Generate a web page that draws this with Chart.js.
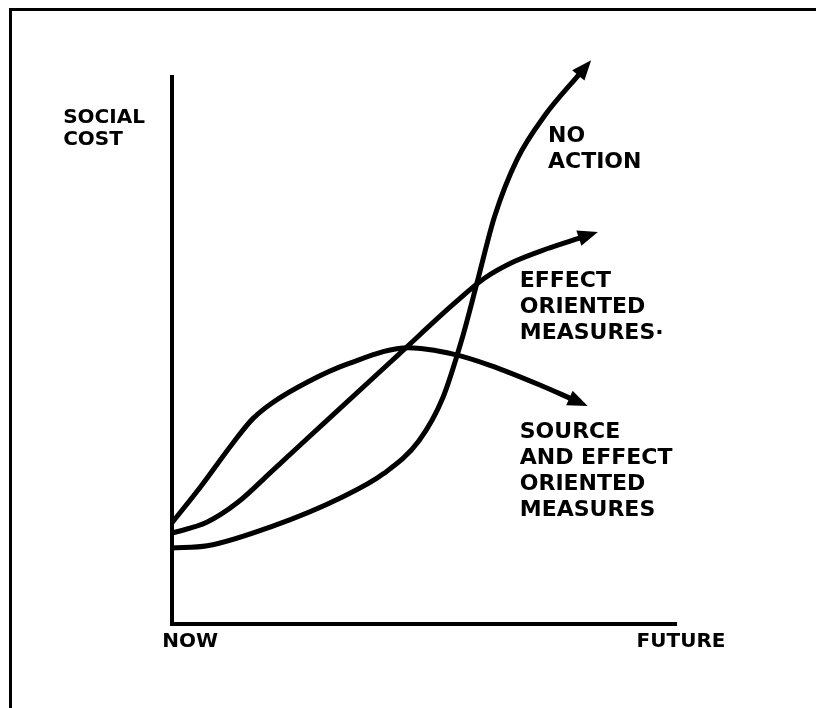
<!DOCTYPE html>
<html>
<head>
<meta charset="utf-8">
<script src="https://cdn.jsdelivr.net/npm/chart.js@4"></script>
<style>
    html, body { margin: 0; padding: 0; background: #fff; }
    #wrap { position: relative; width: 816px; height: 708px; overflow: hidden; }
    #frame { position: absolute; left: 9px; top: 8px; right: -10px; bottom: -10px;
             border-top: 3px solid #000; border-left: 3px solid #000; }
    canvas { position: absolute; left: 0; top: 0; }
</style>
</head>
<body>
<div id="wrap">
    <div id="frame"></div>
    <canvas id="chart" width="816" height="708"></canvas>
</div>
<script>
// Curve data (x: time from NOW, y: social cost)
const noAction = [[0, 13.9], [7, 14.3], [20, 17.9], [33.3, 23.0], [42, 27.5], [49, 33.5], [53.8, 41.5],
    [57.5, 52], [60.5, 62.3], [64, 74.5], [68.5, 85], [74, 93], [81.0, 100.7]];
const effectOriented = [[0, 16.6], [6.9, 18.6], [13, 22.2], [20, 28.1], [30, 36.6], [45, 49.3],
    [56, 58.6], [62, 63.2], [68, 66.3], [74.4, 68.6], [81.3, 70.7]];
const sourceAndEffect = [[0, 18.5], [5.6, 25.0], [12.1, 33.1], [16, 37.5], [20, 40.5], [27, 44.3],
    [35, 47.6], [47, 50.5], [56, 49.3], [63.1, 47.3], [73.0, 43.7], [79.4, 41.1]];

// Axis labels
const xTickValues = [3.6, 101];
const xTickLabels = ['NOW', 'FUTURE'];
const yTitleLines = ['SOCIAL', 'COST'];
const yTitleAnchor = [-21.6, 91.6];

// Curve labels and where they sit (data units, baseline of first line)
const curveLabels = [['NO', 'ACTION'], ['EFFECT', 'ORIENTED', 'MEASURES·'],
    ['SOURCE', 'AND EFFECT', 'ORIENTED', 'MEASURES']];
const curveLabelAnchors = [[74.6, 88.1], [69.0, 61.6], [69.0, 34.0]];

const toPoints = arr => arr.map(p => ({ x: p[0], y: p[1] }));

// draws arrow heads at the end of every curve, plus the text labels
const annotate = {
    id: 'annotate',
    afterDatasetsDraw(chart) {
        const ctx = chart.ctx;
        const xs = chart.scales.x, ys = chart.scales.y;
        ctx.save();
        ctx.fillStyle = '#000';
        chart.data.datasets.forEach((ds, i) => {
            const pts = chart.getDatasetMeta(i).data;
            const a = pts[pts.length - 2], b = pts[pts.length - 1];
            const ang = Math.atan2(b.y - a.y, b.x - a.x);
            const len = 20, half = 8;
            const tx = b.x + Math.cos(ang) * (len - 3), ty = b.y + Math.sin(ang) * (len - 3);
            const bx = tx - Math.cos(ang) * len, by = ty - Math.sin(ang) * len;
            ctx.beginPath();
            ctx.moveTo(tx, ty);
            ctx.lineTo(bx + Math.sin(ang) * half, by - Math.cos(ang) * half);
            ctx.lineTo(bx - Math.sin(ang) * half, by + Math.cos(ang) * half);
            ctx.closePath();
            ctx.fill();
        });

        ctx.textAlign = 'left';
        ctx.textBaseline = 'alphabetic';
        ctx.font = 'bold 22px "DejaVu Sans"';
        curveLabels.forEach((lines, i) => {
            const x = xs.getPixelForValue(curveLabelAnchors[i][0]);
            const y = ys.getPixelForValue(curveLabelAnchors[i][1]);
            lines.forEach((t, j) => ctx.fillText(t, x, y + j * 26));
        });

        ctx.font = 'bold 20px "DejaVu Sans"';
        const sx = xs.getPixelForValue(yTitleAnchor[0]);
        const sy = ys.getPixelForValue(yTitleAnchor[1]);
        yTitleLines.forEach((t, j) => ctx.fillText(t, sx, sy + j * 22));
        ctx.restore();
    }
};

const lineStyle = {
    borderColor: '#000',
    borderWidth: 5,
    pointRadius: 0,
    fill: false,
    cubicInterpolationMode: 'monotone',
    borderCapStyle: 'butt',
    borderJoinStyle: 'round',
    clip: false
};

new Chart(document.getElementById('chart'), {
    type: 'line',
    data: {
        datasets: [
            { label: 'No action', data: toPoints(noAction), ...lineStyle },
            { label: 'Effect oriented measures', data: toPoints(effectOriented), ...lineStyle },
            { label: 'Source and effect oriented measures', data: toPoints(sourceAndEffect), ...lineStyle }
        ]
    },
    options: {
        responsive: false,
        animation: false,
        events: [],
        layout: { padding: { top: 77, right: 140, left: 0, bottom: 0 } },
        plugins: { legend: { display: false }, tooltip: { enabled: false } },
        scales: {
            x: {
                type: 'linear',
                min: 0,
                max: 100,
                grid: { display: false, drawTicks: false },
                border: { display: true, color: '#000', width: 4 },
                afterBuildTicks: scale => { scale.ticks = xTickValues.map(v => ({ value: v })); },
                afterFit: scale => { scale.height = 84; },
                ticks: {
                    autoSkip: false,
                    maxRotation: 0,
                    padding: 6,
                    color: '#000',
                    font: { family: 'DejaVu Sans', size: 20, weight: 'bold' },
                    callback: (v, i) => xTickLabels[i]
                }
            },
            y: {
                type: 'linear',
                min: 0,
                max: 100,
                grid: { display: false, drawTicks: false },
                border: { display: true, color: '#000', width: 4 },
                afterFit: scale => { scale.width = 172; },
                ticks: { display: false }
            }
        }
    },
    plugins: [annotate]
});
</script>
</body>
</html>
